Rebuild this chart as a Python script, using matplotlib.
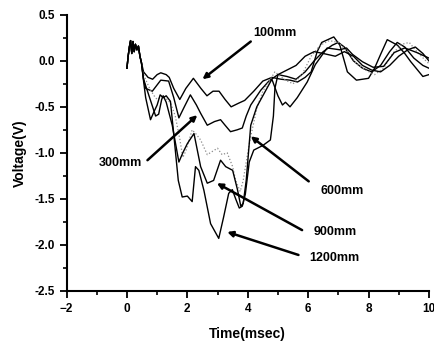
import numpy as np
import matplotlib
matplotlib.use('Agg')
import matplotlib.pyplot as plt
from matplotlib.ticker import MultipleLocator, FormatStrFormatter

plt.rcParams['font.family'] = ['Liberation Sans', 'DejaVu Sans']
plt.rcParams['font.weight'] = 'bold'

# common noisy start of every trace
start_t = [0.0, 0.04, 0.08, 0.12, 0.16, 0.2, 0.24, 0.28, 0.33, 0.38, 0.43, 0.48]
start_v = [-0.08, 0.05, 0.15, 0.22, 0.08, 0.21, 0.1, 0.18, 0.12, 0.16, 0.05, -0.02]

t100 = [0.55, 0.7, 0.85, 1.0, 1.12, 1.3, 1.4, 1.55, 1.75, 1.95, 2.2, 2.45, 2.65, 2.85,
        3.05, 3.25, 3.45, 3.7, 3.9, 4.2, 4.5, 4.8, 5.1, 5.4, 5.65, 5.9, 6.1, 6.3, 6.45,
        6.85, 7.05, 7.3, 7.6, 8.0, 8.2, 8.4, 8.62, 8.96, 9.2, 9.4, 9.8, 10.0]
v100 = [-0.12, -0.18, -0.2, -0.15, -0.13, -0.15, -0.18, -0.3, -0.42, -0.3, -0.19, -0.3,
        -0.38, -0.33, -0.33, -0.42, -0.5, -0.46, -0.43, -0.33, -0.22, -0.18, -0.2, -0.21,
        -0.23, -0.18, -0.12, 0.1, 0.2, 0.26, 0.17, -0.12, -0.21, -0.19, -0.08, 0.07, 0.23,
        0.17, 0.08, -0.01, -0.17, -0.15]

t300 = [0.55, 0.62, 0.84, 1.12, 1.38, 1.55, 1.72, 1.9, 2.1, 2.3, 2.44, 2.66, 2.9, 3.1,
        3.25, 3.43, 3.65, 3.82, 3.95, 4.1, 4.43, 4.7, 5.0, 5.3, 5.6, 5.9, 6.2, 6.5, 6.8,
        7.0, 7.2, 7.5, 7.8, 8.1, 8.4, 8.7, 8.95, 9.2, 9.5, 9.8, 10.0]
v300 = [-0.2, -0.3, -0.33, -0.21, -0.22, -0.4, -0.62, -0.5, -0.37, -0.48, -0.57, -0.7,
        -0.66, -0.64, -0.7, -0.77, -0.75, -0.73, -0.6, -0.48, -0.32, -0.22, -0.15, -0.17,
        -0.2, -0.12, 0.0, 0.1, 0.17, 0.2, 0.15, 0.0, -0.08, -0.12, -0.05, 0.1, 0.2, 0.15,
        0.03, -0.05, -0.08]

t600 = [0.55, 0.75, 0.9, 1.0, 1.2, 1.45, 1.6, 1.75, 1.85, 1.95, 2.16, 2.3, 2.44, 2.66,
        2.85, 3.0, 3.15, 3.32, 3.5, 3.6, 3.75, 3.85, 4.0, 4.1, 4.3, 4.5, 4.75, 4.9, 5.2,
        5.5, 5.8, 6.1, 6.4, 6.7, 7.0, 7.3, 7.6, 7.9, 8.2, 8.5, 8.8, 9.1, 9.35, 9.6, 9.9, 10.0]
v600 = [-0.15, -0.3, -0.38, -0.42, -0.38, -0.46, -0.6, -0.85, -1.05, -0.98, -0.75, -0.8,
        -0.86, -1.02, -0.98, -0.95, -1.02, -1.0, -1.15, -1.3, -1.42, -1.3, -1.0, -0.82,
        -0.52, -0.33, -0.2, -0.12, -0.2, -0.25, -0.15, 0.05, 0.17, 0.22, 0.2, 0.1, -0.03,
        -0.1, -0.15, -0.08, 0.08, 0.18, 0.2, 0.1, 0.0, -0.03]

t900 = [0.55, 0.7, 0.85, 0.95, 1.05, 1.15, 1.2, 1.3, 1.5, 1.72, 1.85, 2.0, 2.22, 2.44,
        2.66, 2.87, 3.1, 3.27, 3.5, 3.66, 3.77, 3.85, 3.95, 4.1, 4.3, 4.6, 4.8, 5.0, 5.15,
        5.25, 5.4, 5.64, 5.97, 6.24, 6.63, 7.05, 7.27, 7.47, 7.8, 8.15, 8.5, 8.85, 9.2,
        9.6, 10.0]
v900 = [-0.2, -0.35, -0.5, -0.6, -0.58, -0.42, -0.38, -0.45, -0.7, -1.1, -1.0, -0.9,
        -0.79, -1.15, -1.33, -1.3, -1.08, -1.15, -1.19, -1.4, -1.58, -1.55, -1.3, -0.7,
        -0.5, -0.32, -0.2, -0.38, -0.48, -0.45, -0.5, -0.4, -0.23, -0.04, 0.14, 0.12, 0.14,
        0.07, -0.01, -0.07, -0.06, 0.09, 0.14, 0.09, 0.03]

t1200 = [0.55, 0.62, 0.78, 0.9, 1.0, 1.1, 1.2, 1.3, 1.44, 1.55, 1.7, 1.83, 2.0, 2.16,
         2.27, 2.38, 2.55, 2.77, 3.04, 3.2, 3.37, 3.49, 3.6, 3.72, 3.82, 3.92, 4.05, 4.2,
         4.5, 4.75, 4.85, 4.9, 5.0, 5.3, 5.6, 5.9, 6.2, 6.5, 6.9, 7.2, 7.5, 7.8, 8.1, 8.4,
         8.7, 9.0, 9.3, 9.55, 9.8, 10.0]
v1200 = [-0.22, -0.4, -0.64, -0.55, -0.48, -0.37, -0.4, -0.38, -0.44, -0.8, -1.3, -1.48,
         -1.47, -1.53, -1.15, -1.19, -1.41, -1.77, -1.93, -1.7, -1.44, -1.4, -1.5, -1.6,
         -1.58, -1.45, -1.1, -0.97, -0.92, -0.86, -0.6, -0.3, -0.15, -0.1, -0.05, 0.05, 0.1,
         0.08, 0.05, 0.1, 0.05, -0.05, -0.1, -0.12, -0.05, 0.05, 0.12, 0.15, 0.08, 0.0]

labels = ['100mm', '300mm', '600mm', '900mm', '1200mm']
label_xy = [(4.9, 0.3), (-0.23, -1.11), (7.11, -1.41), (6.88, -1.86), (6.88, -2.14)]
arrow_tail = [(4.1, 0.21), (0.68, -1.08), (6.02, -1.31), (5.8, -1.84), (5.68, -2.11)]
arrow_head = [(2.5, -0.2), (2.33, -0.59), (4.1, -0.82), (2.98, -1.33), (3.32, -1.86)]

fig = plt.figure(figsize=(4.35, 3.45), dpi=100)
ax = fig.add_axes([0.153, 0.157, 0.833, 0.8])

series = [(t100, v100), (t300, v300), (t600, v600), (t900, v900), (t1200, v1200)]
for i, (t, v) in enumerate(series):
    if i == 2:
        ax.plot(start_t + t, start_v + v, color='#8a8a8a', lw=0.9, ls=':')
    else:
        ax.plot(start_t + t, start_v + v, color='black', lw=1.0)

for lab, pos, tail, head in zip(labels, label_xy, arrow_tail, arrow_head):
    ax.text(pos[0], pos[1], lab, ha='center', va='center', fontsize=9, fontweight='bold')
    ax.annotate('', xy=head, xytext=tail,
                arrowprops=dict(arrowstyle='-|>', color='black', lw=1.8,
                                mutation_scale=8, shrinkA=0, shrinkB=0))

ax.set_xlim(-2, 10)
ax.set_ylim(-2.5, 0.5)
ax.xaxis.set_major_locator(MultipleLocator(2))
ax.xaxis.set_minor_locator(MultipleLocator(1))
ax.yaxis.set_major_locator(MultipleLocator(0.5))
ax.yaxis.set_minor_locator(MultipleLocator(0.25))
ax.yaxis.set_major_formatter(FormatStrFormatter('%.1f'))
ax.spines['top'].set_visible(False)
ax.spines['right'].set_visible(False)
ax.spines['left'].set_linewidth(1.5)
ax.spines['bottom'].set_linewidth(1.5)
ax.tick_params(which='major', direction='out', length=5, width=1.3, labelsize=8.5)
ax.tick_params(which='minor', direction='out', length=3, width=1.2)
for lbl in ax.get_xticklabels() + ax.get_yticklabels():
    lbl.set_fontweight('bold')

ax.set_xlabel('Time(msec)', fontsize=10, fontweight='bold', labelpad=9)
ax.set_ylabel('Voltage(V)', fontsize=10, fontweight='bold', labelpad=5)

fig.savefig('out.png', dpi=100)
